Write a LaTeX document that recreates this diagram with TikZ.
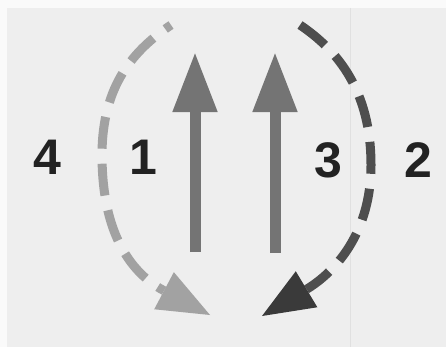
\documentclass[tikz,border=0pt]{standalone}
\usepackage{fontspec}
\setmainfont{Liberation Sans}
\usetikzlibrary{arrows.meta}
\definecolor{bgpaper}{HTML}{FAFAFA}
\definecolor{bggray}{HTML}{EEEEEE}
\definecolor{lightarc}{HTML}{A2A2A2}
\definecolor{upgray}{HTML}{747474}
\definecolor{darkarc}{HTML}{4E4E4E}
\definecolor{darkhead}{HTML}{3A3A3A}
\definecolor{digit}{HTML}{222222}
\tikzset{
  digitlabel/.style={font=\fontsize{50}{50}\selectfont\bfseries, text=digit, inner sep=0pt},
  uparrow/.style={draw=upgray, line width=11pt, -{Triangle[length=60pt,width=42pt]}},
  arcline/.style={line width=9pt, dash pattern=on 32pt off 15pt},
}
\begin{document}
\begin{tikzpicture}[x=1pt,y=-1pt]
  \fill[bgpaper] (0,0) rectangle (446,347);
  \fill[bggray] (7,8) rectangle (446,347);
  \draw[black!12, line width=0.6pt] (350,8) -- (350,347);
  \useasboundingbox (0,0) rectangle (446,347);

  % labels
  \node[digitlabel] (n4) at (47,157) {4};
  \node[digitlabel] (n1) at (143,157) {1};
  \node[digitlabel] (n3) at (328,160) {3};
  \node[digitlabel] (n2) at (418,160) {2};

  % up arrows
  \coordinate (a1s) at (195,252);
  \coordinate (a1e) at (195,52);
  \coordinate (a2s) at (275,253);
  \coordinate (a2e) at (275,52);
  \draw[uparrow] (a1s) -- (a1e);
  \draw[uparrow] (a2s) -- (a2e);

  % left dashed arc
  \coordinate (L0) at (171,25);
  \coordinate (Lm) at (102,155);
  \coordinate (Le) at (210,315);
  \draw[arcline, dash phase=25pt, draw=lightarc, -{Triangle[length=52pt,width=42pt,fill=lightarc,line width=0pt]}]
    (L0) .. controls (134,50) and (102,85) .. (Lm)
         .. controls (102,245) and (140,278) .. (Le);

  % right dashed arc
  \coordinate (R0) at (300,25);
  \coordinate (Rm) at (371,165);
  \coordinate (Re) at (262,316);
  \draw[arcline, draw=darkarc, -{Triangle[length=52pt,width=42pt,fill=darkhead,line width=0pt]}]
    (R0) .. controls (337,50) and (371,90) .. (Rm)
         .. controls (371,245) and (322,280) .. (Re);
\end{tikzpicture}
\end{document}
